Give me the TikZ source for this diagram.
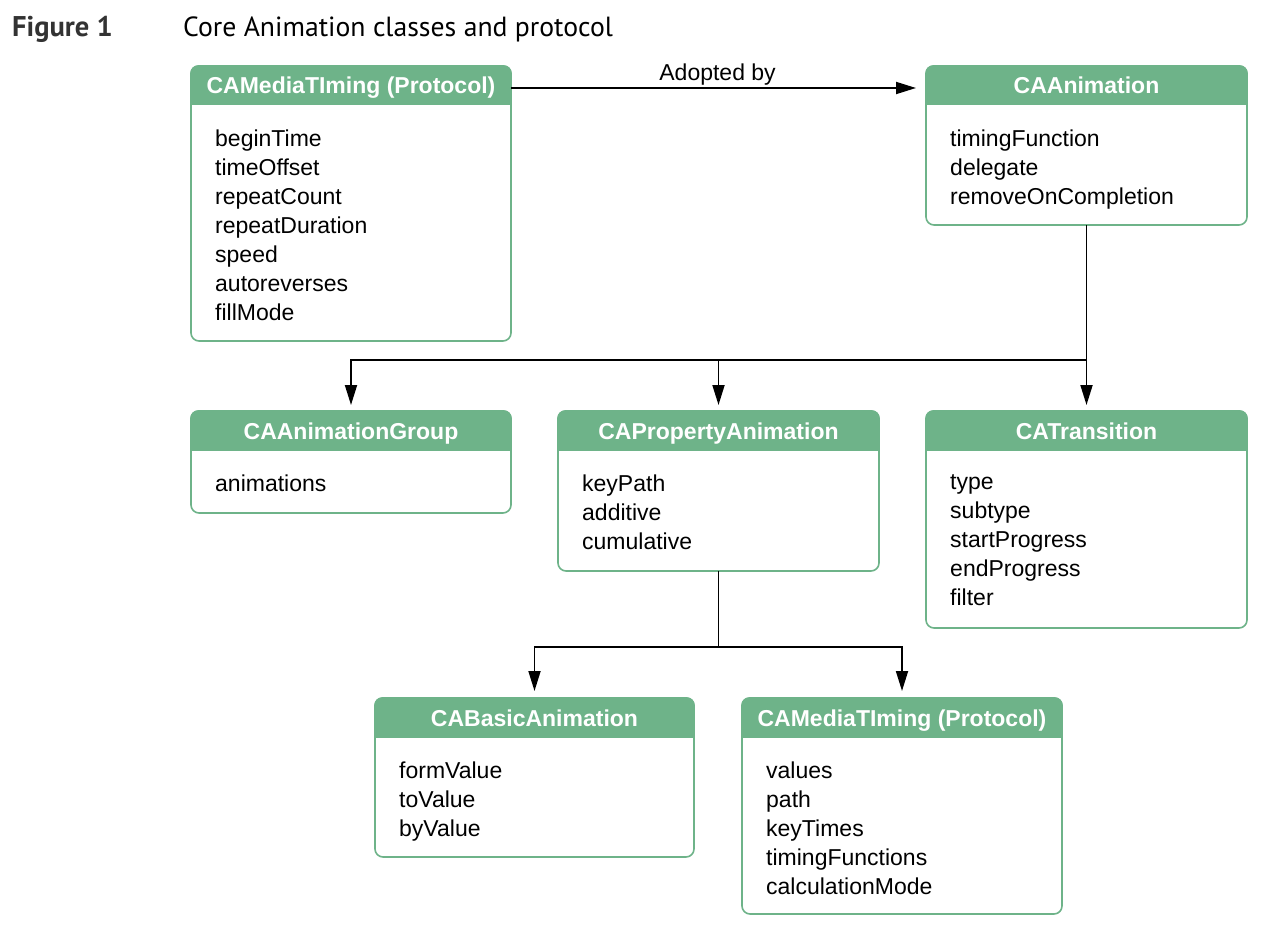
\documentclass[tikz,border=0pt]{standalone}
\usepackage{fontspec}
\setmainfont{Liberation Sans}
\newfontfamily\titlefont{PT Sans}
\usetikzlibrary{arrows.meta}
\definecolor{boxgreen}{RGB}{110,179,137}
\newcommand\umlbox[7]{%
  \node[frame, minimum width={(#4-#2)*1pt}, minimum height={(#5-#3)*1pt}] (#1) at (#2,#3) {};
  \begin{scope}
    \clip (#2-2,#3-2) rectangle (#4+2,#3+39);
    \fill[boxgreen, rounded corners=8pt] (#2-0.8,#3-0.8) rectangle (#4+0.8,#5);
  \end{scope}
  \node[hdrtext] (#1-title) at ({(#2+#4)/2},#3+28) {#6};
  \node[bodytext] (#1-body) at (#2+24,#3+63.5) {#7};
}
\begin{document}
\begin{tikzpicture}[x=1pt,y=-1pt,
  frame/.style={draw=boxgreen, line width=1.6pt, rounded corners=8pt, fill=white, inner sep=0pt, outer sep=0pt, anchor=north west},
  hdrtext/.style={text=white, anchor=base, font=\fontsize{23}{26}\selectfont\bfseries, inner sep=0pt},
  bodytext/.style={anchor=north west, align=left, inner sep=0pt, font=\fontsize{23}{29}\selectfont},
  conn/.style={line width=1.8pt, draw=black},
  arr/.style={conn, -{Triangle[length=20pt,width=12pt]}},
  lbl/.style={font=\fontsize{23}{26}\selectfont, inner sep=2pt}]
\useasboundingbox (0,0) rectangle (1268,936);

\node[anchor=base west, inner sep=0pt, text=black!80, font=\titlefont\bfseries\fontsize{28.5}{32}\selectfont] (fig) at (12,37) {Figure 1};
\node[anchor=base west, inner sep=0pt, font=\titlefont\fontsize{27.7}{32}\selectfont] (cap) at (183,37) {Core Animation classes and protocol};

\umlbox{mt1}{191}{66}{511}{341}{CAMediaTIming (Protocol)}{beginTime\\timeOffset\\repeatCount\\repeatDuration\\speed\\autoreverses\\fillMode}
\umlbox{anim}{926}{66}{1247}{225}{CAAnimation}{timingFunction\\delegate\\removeOnCompletion}
\umlbox{group}{191}{411}{511}{513}{CAAnimationGroup}{animations}
\umlbox{prop}{558}{411}{879}{571}{CAPropertyAnimation}{keyPath\\additive\\cumulative}
\umlbox{trans}{926}{411}{1247}{628}{CATransition}{type\\subtype\\startProgress\\endProgress\\filter}
\umlbox{basic}{375}{698}{694}{857}{CABasicAnimation}{formValue\\toValue\\byValue}
\umlbox{mt2}{742}{698}{1062}{914}{CAMediaTIming (Protocol)}{values\\path\\keyTimes\\timingFunctions\\calculationMode}

\draw[arr] ([yshift=-22pt]mt1.north east) -- ([xshift=-10pt,yshift=-22pt]anim.north west)
  node[lbl, pos=0.51, above] (adopt) {Adopted by};

\coordinate (j1) at (anim.south |- 0,360);
\draw[arr] (anim.south) -- ([yshift=6pt]trans.north);
\draw[arr] (j1) -| ([yshift=6pt]group.north);
\draw[arr] (prop.north |- j1) -- ([yshift=6pt]prop.north);

\coordinate (j2) at (prop.south |- 0,647);
\draw[conn] (prop.south) -- (j2);
\draw[arr] (j2) -| ([yshift=7pt]basic.north);
\draw[arr] (j2) -| ([yshift=7pt]mt2.north);
\end{tikzpicture}
\end{document}
